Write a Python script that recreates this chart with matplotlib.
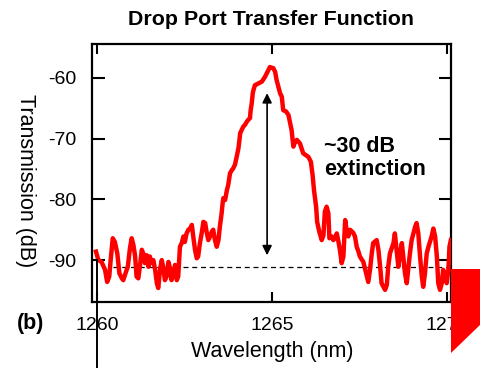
import numpy as np
import matplotlib
matplotlib.use("Agg")
import matplotlib.pyplot as plt
from matplotlib.patches import Polygon

plt.rcParams['font.family'] = ['Liberation Sans', 'DejaVu Sans']

# drop port spectrum
wavelength = [
    1259.97, 1260.04, 1260.13, 1260.23, 1260.29, 1260.35, 1260.39, 1260.45, 1260.51, 1260.58,
    1260.64, 1260.71, 1260.75, 1260.83, 1260.88, 1260.94, 1260.99, 1261.04, 1261.09, 1261.13,
    1261.18, 1261.23, 1261.28, 1261.32, 1261.37, 1261.42, 1261.47, 1261.51, 1261.56, 1261.61,
    1261.66, 1261.71, 1261.75, 1261.80, 1261.85, 1261.89, 1261.94, 1261.99, 1262.04, 1262.09,
    1262.13, 1262.18, 1262.23, 1262.28, 1262.32, 1262.37, 1262.42, 1262.47, 1262.51, 1262.56,
    1262.61, 1262.66, 1262.71, 1262.75, 1262.80, 1262.85, 1262.89, 1262.94, 1262.99, 1263.04,
    1263.09, 1263.13, 1263.18, 1263.23, 1263.28, 1263.32, 1263.37, 1263.42, 1263.47, 1263.51,
    1263.56, 1263.59, 1263.61, 1263.66, 1263.71, 1263.75, 1263.80, 1263.85, 1263.89, 1263.94,
    1263.99, 1264.04, 1264.07, 1264.09, 1264.13, 1264.18, 1264.23, 1264.28, 1264.32, 1264.37,
    1264.39, 1264.42, 1264.45, 1264.47, 1264.51, 1264.61, 1264.71, 1264.80, 1264.87, 1264.94,
    1265.04, 1265.09, 1265.13, 1265.18, 1265.23, 1265.28, 1265.32, 1265.40, 1265.47, 1265.51,
    1265.56, 1265.61, 1265.66, 1265.71, 1265.80, 1265.89, 1266.04, 1266.11, 1266.16, 1266.20,
    1266.26, 1266.29, 1266.35, 1266.42, 1266.47, 1266.51, 1266.56, 1266.61, 1266.64, 1266.71,
    1266.75, 1266.80, 1266.85, 1266.89, 1266.94, 1266.99, 1267.04, 1267.09, 1267.13, 1267.18,
    1267.23, 1267.32, 1267.37, 1267.42, 1267.47, 1267.51, 1267.61, 1267.71, 1267.75, 1267.80,
    1267.85, 1267.89, 1267.99, 1268.04, 1268.09, 1268.13, 1268.23, 1268.28, 1268.32, 1268.37,
    1268.47, 1268.51, 1268.56, 1268.61, 1268.66, 1268.71, 1268.75, 1268.80, 1268.85, 1268.89,
    1268.94, 1268.99, 1269.04, 1269.09, 1269.13, 1269.18, 1269.23, 1269.28, 1269.32, 1269.37,
    1269.42, 1269.47, 1269.56, 1269.61, 1269.66, 1269.71, 1269.75, 1269.80, 1269.85, 1269.89,
    1269.94, 1269.99, 1270.04, 1270.07, 1270.11,
]
transmission = [
    -88.6, -90.0, -90.3, -91.6, -93.6, -92.7, -90.0, -86.4, -87.0, -88.9,
    -92.2, -93.0, -93.3, -91.9, -91.1, -88.1, -86.4, -87.5, -89.4, -92.7,
    -93.0, -90.8, -88.3, -88.9, -90.5, -89.2, -91.1, -89.4, -90.5, -90.0,
    -91.6, -93.8, -94.6, -91.6, -90.0, -91.1, -93.3, -92.7, -90.3, -91.4,
    -93.3, -92.2, -90.8, -93.3, -92.7, -87.8, -87.2, -86.1, -87.0, -85.6,
    -85.0, -84.8, -84.2, -86.1, -88.3, -89.7, -89.4, -87.2, -85.6, -83.7,
    -83.9, -85.3, -86.7, -86.1, -85.3, -85.0, -86.7, -87.8, -86.7, -84.5,
    -82.3, -80.6, -79.8, -80.1, -78.5, -77.6, -75.7, -75.2, -74.9, -74.3,
    -73.0, -71.6, -70.2, -69.1, -68.6, -68.0, -67.7, -67.2, -66.9, -66.6,
    -65.3, -64.2, -62.5, -62.0, -61.2, -60.9, -60.6, -59.8, -59.0, -58.2,
    -58.4, -59.0, -60.3, -61.4, -62.5, -63.1, -65.3, -65.5, -66.1, -67.2,
    -68.6, -71.3, -70.5, -70.2, -70.8, -72.4, -73.0, -73.8, -76.0, -78.5,
    -81.2, -83.7, -85.3, -86.7, -85.9, -82.0, -81.2, -82.3, -86.4, -86.1,
    -86.7, -86.4, -85.6, -86.7, -88.3, -90.5, -89.4, -83.4, -85.0, -86.1,
    -85.0, -85.5, -86.1, -87.8, -88.6, -89.4, -90.3, -92.7, -93.6, -91.6,
    -88.9, -87.2, -86.7, -88.3, -91.1, -93.8, -94.9, -94.1, -91.1, -88.9,
    -87.2, -85.6, -88.3, -91.1, -88.9, -87.2, -89.4, -92.2, -93.8, -91.6,
    -88.9, -86.7, -85.6, -84.5, -83.9, -85.6, -89.4, -92.7, -94.4, -92.2,
    -88.9, -87.8, -86.1, -84.8, -86.1, -89.4, -93.8, -94.9, -93.8, -91.6,
    -92.2, -93.8, -91.6, -87.8, -86.7,
]

floor_level = -91.1
floor_span = [1260.46, 1270.09]
peak_wl = 1264.86
arrow_span = [-89.2, -62.5]

x_ticks = [1260, 1265, 1270]
y_ticks = [-60, -70, -80, -90]

fig = plt.figure(figsize=(4.81, 3.68), dpi=100)
ax = fig.add_axes([92 / 481, 1 - 302 / 368, 359 / 481, 258 / 368])

ax.plot(wavelength, transmission, color='#ff0000', lw=3.2, solid_joinstyle='round', zorder=3)
ax.plot(floor_span, [floor_level, floor_level], color='black', lw=0.9,
        dashes=(4, 3), zorder=2)
ax.annotate('', xy=(peak_wl, arrow_span[1]), xytext=(peak_wl, arrow_span[0]),
            arrowprops=dict(arrowstyle='<|-|>', color='black', lw=1.2,
                            mutation_scale=14, shrinkA=0, shrinkB=0))
ax.text(1266.49, -73.2, '~30 dB\nextinction', fontsize=15.5, fontweight='bold',
        ha='left', va='center', linespacing=1.15)

# stray vertical line through the 1260 label
ax.plot([1260, 1260], [-90, -108], color='black', lw=1.4, clip_on=False, zorder=4)

ax.set_xlim(1259.857, 1270.114)
ax.set_ylim(-96.9, -54.4)
ax.set_xticks(x_ticks)
ax.set_yticks(y_ticks)
ax.set_xticklabels([str(t) for t in x_ticks], fontsize=14)
ax.set_yticklabels([str(t) for t in y_ticks], fontsize=14)
ax.tick_params(axis='y', direction='in', length=9, width=1.5, left=True, right=True, pad=11)
ax.tick_params(axis='x', direction='in', length=7, width=1.5, top=True, bottom=True, pad=11)
for s in ax.spines.values():
    s.set_linewidth(1.6)

fig.text(0.564, 1 - 25 / 368, 'Drop Port Transfer Function', fontsize=15.4,
         fontweight='bold', ha='center', va='baseline')
fig.text(0.052, 1 - 181 / 368, 'Transmission (dB)', fontsize=15.5, rotation=270,
         ha='center', va='center')
fig.text(0.566, 1 - 352 / 368, 'Wavelength (nm)', fontsize=15.5, ha='center', va='center')
fig.text(0.064, 0.122, '(b)', fontsize=15.5, fontweight='bold', ha='center', va='center')

# red corner shape clipping the last tick label
fig.patches.append(Polygon([[451 / 481, 1 - 269 / 368], [1.0, 1 - 269 / 368],
                            [1.0, 1 - 324 / 368], [451 / 481, 1 - 353 / 368]],
                           closed=True, transform=fig.transFigure,
                           facecolor='#ff0000', edgecolor='none', zorder=10))

fig.savefig('out.png', dpi=100)
